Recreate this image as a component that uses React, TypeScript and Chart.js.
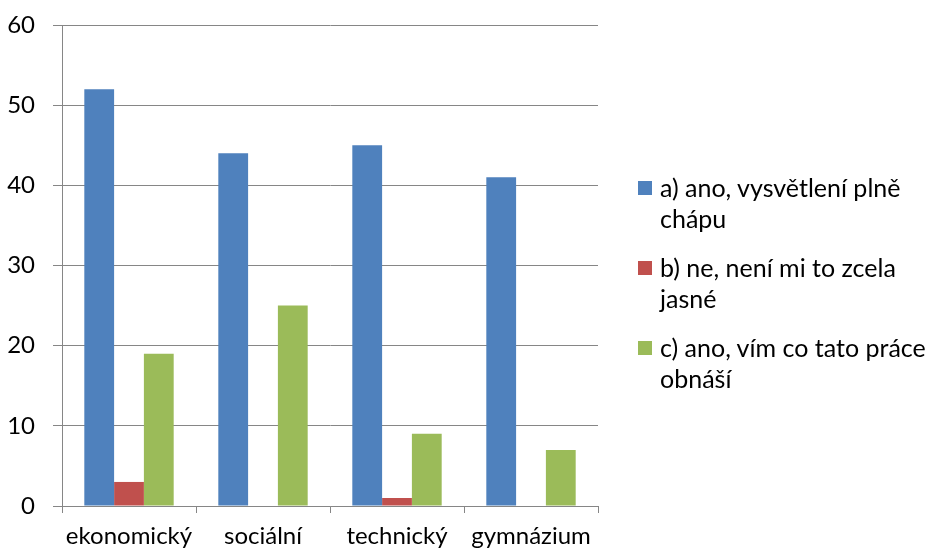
import React, { useEffect, useRef } from "react";
import { Chart, registerables } from "chart.js";

Chart.register(...registerables);

const categories = ["ekonomický", "sociální", "technický", "gymnázium"];
const seriesA = [52, 44, 45, 41];
const seriesB = [3, 0, 1, 0];
const seriesC = [19, 25, 9, 7];
const seriesNames = [
  "a) ano, vysvětlení plně chápu",
  "b) ne, není mi to zcela jasné",
  "c) ano, vím co tato práce obnáší",
];
const legendLines = [
  ["a) ano, vysvětlení plně", "chápu"],
  ["b) ne, není mi to zcela", "jasné"],
  ["c) ano, vím co tato práce", "obnáší"],
];
const colors = ["#4F81BD", "#C0504D", "#9BBB59"];
const yMin = 0;
const yMax = 60;
const yStep = 10;

const FONT = "Lato, 'Open Sans', sans-serif";
const FS = 24;
const AXIS = "#868686";

export default function App() {
  const ref = useRef<HTMLCanvasElement | null>(null);

  useEffect(() => {
    if (!ref.current) return;
    const values = [seriesA, seriesB, seriesC];
    const chart = new Chart(ref.current, {
      type: "bar",
      data: {
        labels: categories,
        datasets: values.map((v, i) => ({
          label: seriesNames[i],
          data: v,
          backgroundColor: colors[i],
          borderWidth: 0,
          categoryPercentage: 0.667,
          barPercentage: 1,
        })),
      },
      options: {
        responsive: false,
        maintainAspectRatio: false,
        animation: false,
        layout: { padding: { left: 0, top: 25, right: 330, bottom: 0 } },
        plugins: {
          legend: { display: false },
          tooltip: { enabled: false },
        },
        scales: {
          x: {
            afterFit: (s: any) => {
              s.height = 45;
              s.paddingLeft = 0;
              s.paddingRight = 0;
            },
            grid: {
              offset: true,
              drawOnChartArea: false,
              drawTicks: true,
              tickLength: 7,
              color: AXIS,
              lineWidth: 1,
            },
            border: { color: AXIS, width: 1 },
            ticks: {
              color: "#000",
              font: { family: FONT, size: FS },
              padding: 9,
              maxRotation: 0,
              autoSkip: false,
            },
          },
          y: {
            min: yMin,
            max: yMax,
            afterFit: (s: any) => {
              s.width = 62;
              s.paddingTop = 0;
              s.paddingBottom = 0;
            },
            grid: {
              color: AXIS,
              lineWidth: 1,
              tickLength: 9,
            },
            border: { color: AXIS, width: 1 },
            ticks: {
              stepSize: yStep,
              color: "#000",
              font: { family: FONT, size: FS },
              padding: 18,
            },
          },
        },
      },
    });
    return () => chart.destroy();
  }, []);

  return (
    <div
      style={{
        position: "fixed",
        left: 0,
        top: 0,
        width: 928,
        height: 551,
        background: "#fff",
      }}
    >
      <canvas ref={ref} width={928} height={551} style={{ display: "block" }} />
      {legendLines.map((lines, i) => (
        <div
          key={i}
          style={{
            position: "absolute",
            left: 638,
            top: 172 + i * 80,
            fontFamily: FONT,
            fontSize: 25,
            lineHeight: "31px",
            color: "#000",
            display: "flex",
            alignItems: "flex-start",
          }}
        >
          <div
            style={{
              width: 14,
              height: 14,
              background: colors[i],
              marginTop: 9,
              marginRight: 8,
              flex: "none",
            }}
          />
          <div>
            {lines.map((l, j) => (
              <div key={j} style={{ whiteSpace: "nowrap" }}>
                {l}
              </div>
            ))}
          </div>
        </div>
      ))}
    </div>
  );
}
